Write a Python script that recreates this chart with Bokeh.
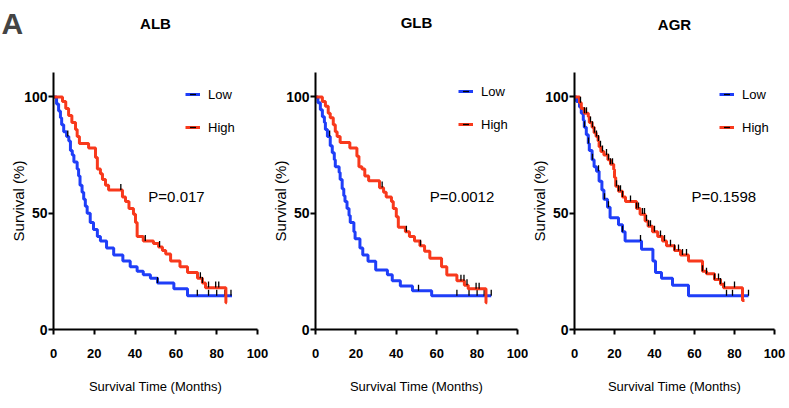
import numpy as np
from bokeh.plotting import figure
from bokeh.layouts import row
from bokeh.models import Range1d, FixedTicker, Legend, LegendItem, Label, LinearAxis, Title
from bokeh.embed import file_html
from bokeh.resources import INLINE

# ---------------- data ----------------
titles = ["ALB", "GLB", "AGR"]
p_values = ["P=0.017", "P=0.0012", "P=0.1598"]
group_names = ["Low", "High"]
x_ticks = [0, 20, 40, 60, 80, 100]
y_ticks = [0, 50, 100]
x_label = "Survival Time (Months)"
y_label = "Survival (%)"
panel_letter = "A"

# ALB
alb_low_t = [0, 1.5, 2.5, 3.4, 4, 5, 6.4, 7.5, 8.3, 9.2, 10, 11.6, 12.3, 13, 14, 14.8, 15.6, 16.5, 18, 19.6,
             21.5, 23, 26, 29.5, 34, 37.6, 41, 44, 47.5, 51, 59, 65.7, 87.5]
alb_low_s = [100, 97, 94, 91, 88, 85, 83, 81, 77, 75, 72, 69, 66, 62, 59, 56, 53, 50, 46, 43,
             40, 38, 35, 32, 29.5, 27, 25, 23.5, 22, 20, 17.5, 14.5, 14.5]
alb_low_c = [7, 51, 70.5, 76, 80, 84, 87]
alb_high_t = [0, 4.4, 6, 7.4, 9, 10.8, 11.6, 12.7, 17.2, 20.6, 21.5, 23, 24, 25.5, 27, 33.8, 35.3, 37, 39.2, 40.2,
              41, 44, 49, 51.5, 53.4, 55, 57.4, 62, 65.7, 70.6, 73, 74.5, 84.5, 85]
alb_high_s = [100, 98, 95, 92, 89, 86, 83, 80, 78, 74, 69, 67, 64.5, 62, 60, 57, 55, 52, 49.5, 46,
              40, 38, 37, 35.5, 34, 32.5, 29.5, 27, 24.5, 22, 20, 18, 11.5, 11.5]
alb_high_c = [33, 45, 52, 72, 73, 76, 79.5, 81]

# GLB
glb_low_t = [0, 1.2, 2.4, 3.4, 4.4, 4.9, 5.9, 7.3, 8.3, 9.3, 9.8, 11.7, 12.2, 13.2, 14, 14.6, 15.6, 16.6, 17.2, 19,
             19.6, 22, 23.4, 26, 29.8, 35.6, 38, 42, 48, 57.5, 87]
glb_low_s = [100, 97.5, 94.5, 91.5, 89, 86, 83, 79, 76, 73, 70, 67.5, 64.5, 60.5, 57.5, 55, 52, 49, 46, 42,
             39, 35, 32, 29.3, 25.6, 23.5, 21, 18.7, 16.7, 14.5, 14.5]
glb_low_c = [7, 51, 70, 76, 80, 83.5, 87]
glb_high_t = [0, 3.4, 4.9, 6.3, 7.3, 8.8, 9.8, 10.7, 12.2, 17, 20.5, 21.5, 23, 24.4, 26.3, 31.7, 33.7, 35, 37.6, 38.5,
              40, 41, 44.5, 46.5, 49, 51.7, 54, 56.6, 62.4, 65, 70, 73.7, 75.6, 84.4, 85]
glb_high_s = [100, 98, 96, 93, 91, 88, 85, 83, 80.4, 78, 74.5, 70, 69, 66, 64, 61, 59, 57, 55, 52,
              48.5, 44, 42, 40, 38, 36, 33.6, 30.6, 27, 23.4, 21, 19, 17.5, 11.5, 11.5]
glb_high_c = [33, 45, 52, 72, 73.5, 75, 79.5, 81]

# AGR
agr_low_t = [0, 1, 2.5, 3.4, 4.4, 4.9, 5.9, 6.9, 7.4, 8.8, 9.8, 11, 12.3, 13.7, 14.7, 16.5, 17.8, 22, 24, 25.3,
             33.5, 39.2, 40.5, 43.5, 49, 57, 87]
agr_low_s = [100, 98, 95.7, 93, 90, 87, 83.7, 80, 77, 73, 70, 68, 63.7, 60, 56, 52.6, 48, 45, 42, 38,
             34.5, 29.5, 24.5, 22, 19, 14.5, 14.5]
agr_low_c = [5, 7, 9, 12, 15, 17, 24, 33, 76, 79, 84, 87]
agr_high_t = [0, 2.5, 3.4, 4.9, 6.9, 7.4, 8.8, 9.8, 10.8, 11.8, 12.3, 13.2, 14.7, 16.7, 18, 19.6, 20, 20.6, 22, 24,
              25.5, 31, 32.8, 35.3, 36.8, 39, 41.6, 44, 46, 50, 53, 57, 64, 66, 70, 73, 74.5, 84, 85]
agr_high_s = [100, 97.5, 95, 93, 91.5, 89, 87, 84.6, 83, 81, 78.6, 76.5, 75, 73, 71, 68.8, 65.4, 61.6, 59.4, 57,
              55, 52, 49.6, 46.6, 44.4, 42, 40, 38, 36, 34, 32, 29.5, 25, 24, 21.5, 19.5, 18, 12.5, 12.5]
agr_high_c = [3, 5, 6, 8, 9, 10, 11, 12, 13, 14, 16, 17, 18, 19, 21, 22, 23, 24, 28, 31, 32, 34, 35, 36, 37,
              38, 40, 43, 45, 48, 50, 52, 54, 56, 64, 66, 70, 72, 73, 75, 80]

# ---------------- styling / layout ----------------
FONT = "Liberation Sans"
BLUE = "#1f3ef8"
RED = "#f8391c"
H = 406

layouts = [
    dict(width=269, left=53, right=12, top=70, bottom=77, spacer=39, legend=(132, 192), plab=(46.5, 57)),
    dict(width=259, left=43, right=11, top=72, bottom=74, spacer=40, legend=(143, 195), plab=(56.5, 57)),
    dict(width=258, left=42, right=12, top=70, bottom=77, spacer=38, legend=(145, 192), plab=(58.5, 57)),
]

series = [
    (alb_low_t, alb_low_s, alb_low_c, alb_high_t, alb_high_s, alb_high_c),
    (glb_low_t, glb_low_s, glb_low_c, glb_high_t, glb_high_s, glb_high_c),
    (agr_low_t, agr_low_s, agr_low_c, agr_high_t, agr_high_s, agr_high_c),
]


def at_time(t, s, c):
    t = np.asarray(t, dtype=float)
    s = np.asarray(s, dtype=float)
    idx = np.searchsorted(t, np.asarray(c, dtype=float), side="right") - 1
    return s[np.clip(idx, 0, len(s) - 1)]


def style_axis(ax, tick_font_size):
    ax.axis_line_width = 2
    ax.axis_line_color = "black"
    ax.major_tick_line_width = 2
    ax.major_tick_line_color = "black"
    ax.major_tick_out = 5
    ax.major_tick_in = 0
    ax.minor_tick_out = 0
    ax.minor_tick_in = 0
    ax.major_label_text_font = FONT
    ax.major_label_text_font_size = tick_font_size
    ax.major_label_text_font_style = "bold"
    ax.major_label_text_color = "black"
    ax.axis_label_text_font = FONT
    ax.axis_label_text_font_style = "normal"
    ax.axis_label_text_color = "black"


def make_panel(i):
    lo = layouts[i]
    lt, ls, lc, ht, hs, hc = series[i]
    p = figure(width=lo["width"], height=H, output_backend="svg", toolbar_location=None,
               x_range=Range1d(0, 100), y_range=Range1d(0, 110.5),
               min_border_left=lo["left"], min_border_right=lo["right"],
               min_border_top=lo["top"], min_border_bottom=lo["bottom"])
    p.background_fill_color = None
    p.border_fill_color = None
    p.outline_line_color = None
    p.grid.visible = False
    try:
        p.title = None
    except Exception:
        p.title.text = ""

    xa = p.below[0]
    ya = p.left[0]
    style_axis(xa, "13px")
    style_axis(ya, "14px")
    xa.ticker = FixedTicker(ticks=x_ticks, minor_ticks=[])
    ya.ticker = FixedTicker(ticks=y_ticks, minor_ticks=[])
    xa.axis_label = x_label
    xa.axis_label_text_font_size = "13px"
    xa.major_label_standoff = 14
    xa.axis_label_standoff = 18
    ya.axis_label = y_label
    ya.axis_label_text_font_size = "15px"
    ya.major_label_standoff = 1
    ya.axis_label_standoff = -6

    # invisible spacer (single white tick at the frame's right edge) between the frame and the title
    spacer = LinearAxis(ticker=FixedTicker(ticks=[x_ticks[-1]], minor_ticks=[]), axis_line_alpha=0,
                        major_tick_line_color="white", major_tick_line_width=1,
                        major_tick_out=lo["spacer"], major_tick_in=0, minor_tick_out=0,
                        minor_tick_in=0, major_label_standoff=0, axis_label_standoff=0,
                        major_label_overrides={x_ticks[-1]: ""}, major_label_text_font_size="1px")
    p.add_layout(spacer, "above")
    p.add_layout(Title(text=titles[i], align="center", text_font=FONT, text_font_size="15px",
                       text_font_style="bold", text_color="black", standoff=4), "above")

    items = []
    for t, s, c, col, name in ((lt, ls, lc, BLUE, group_names[0]), (ht, hs, hc, RED, group_names[1])):
        ln = p.step(x=t, y=s, mode="after", line_color=col, line_width=3)
        cy = at_time(t, s, c) + 1.3
        tk = p.scatter(x=c, y=cy, marker="dash", angle=np.pi / 2, size=6,
                       line_color="black", line_width=1.3)
        items.append(LegendItem(label=name, renderers=[ln, tk]))

    leg = Legend(items=items, location=lo["legend"], border_line_color=None,
                 background_fill_alpha=0, padding=0, margin=0, spacing=13,
                 glyph_width=15, glyph_height=20, label_height=20, label_standoff=8,
                 label_text_font=FONT, label_text_font_size="13px", label_text_color="black")
    p.add_layout(leg)

    p.add_layout(Label(x=lo["plab"][0], y=lo["plab"][1], text=p_values[i], text_font=FONT,
                       text_font_size="15px", text_baseline="middle", text_color="black"))
    return p


# panel letter "A": an empty figure whose title is the letter, overlapped by the first panel
fa = figure(width=30, height=120, output_backend="svg", toolbar_location=None,
            x_axis_type=None, y_axis_type=None, min_border_left=1, min_border_right=0,
            min_border_top=20, min_border_bottom=0, title=panel_letter)
fa.background_fill_color = None
fa.border_fill_color = None
fa.outline_line_color = None
fa.grid.visible = False
fa.title.text_font = FONT
fa.title.text_font_size = "30px"
fa.title.text_font_style = "bold"
fa.title.align = "left"
fa.title.vertical_align = "top"
fa.title.standoff = 4
fa.margin = (0, -30, 0, 0)

layout = row(fa, *[make_panel(i) for i in range(3)])
open("out.html", "w").write(file_html(layout, INLINE))
